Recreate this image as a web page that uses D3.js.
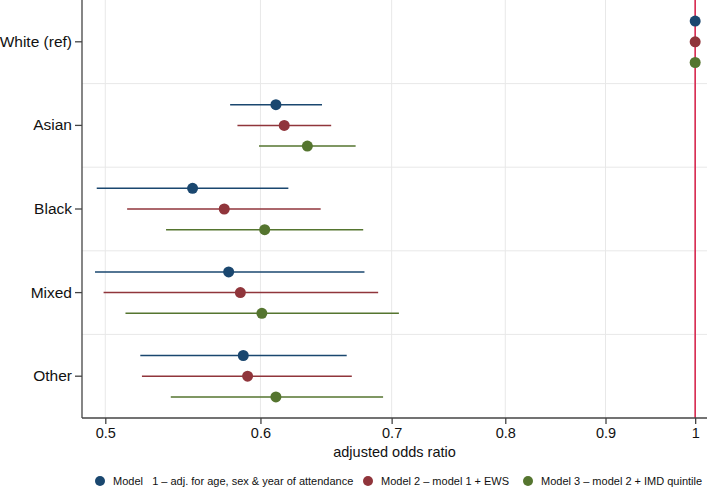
<!DOCTYPE html>
<html>
<head>
<meta charset="utf-8">
<script src="https://cdn.jsdelivr.net/npm/d3@7"></script>
<style>
  body { margin: 0; background: #fff; }
  svg text { font-family: "Liberation Sans", Arial, sans-serif; fill: #111; }
</style>
</head>
<body>
<div id="chart"></div>
<script>
// categories, top to bottom
var groups = ["White (ref)", "Asian", "Black", "Mixed", "Other"];
var models = ["Model   1 \u2013 adj. for age, sex & year of attendance",
              "Model 2 \u2013 model 1 + EWS",
              "Model 3 \u2013 model 2 + IMD quintile"];
var colors = ["#1a476f", "#90353b", "#55752f"];

// odds ratios and 95% CI per model, one value per group
var or1 = [1, 0.611, 0.554, 0.578, 0.588];
var lo1 = [1, 0.579, 0.495, 0.494, 0.521];
var hi1 = [1, 0.645, 0.620, 0.678, 0.664];

var or2 = [1, 0.617, 0.575, 0.586, 0.591];
var lo2 = [1, 0.584, 0.513, 0.499, 0.522];
var hi2 = [1, 0.652, 0.644, 0.689, 0.668];

var or3 = [1, 0.634, 0.603, 0.601, 0.611];
var lo3 = [1, 0.599, 0.537, 0.512, 0.540];
var hi3 = [1, 0.671, 0.677, 0.706, 0.693];

var xTicks = [0.5, 0.6, 0.7, 0.8, 0.9, 1];

var w = 708, h = 494;
var pLeft = 82, pRight = 707, pTop = 0, pBottom = 418;

var svg = d3.select("#chart").append("svg")
    .attr("width", w)
    .attr("height", h);

var x = d3.scaleLog().domain([0.4865, 1.014]).range([pLeft, pRight]);
var y = d3.scaleBand().domain(groups).range([pTop, pBottom]);
var off = d3.scalePoint().domain([0, 1, 2]).range([-20.7, 20.7]);

// grid lines
svg.selectAll("line.vgrid")
    .data(xTicks)
    .enter()
    .append("line")
    .attr("x1", function (d) { return x(d); })
    .attr("x2", function (d) { return x(d); })
    .attr("y1", pTop)
    .attr("y2", pBottom)
    .attr("stroke", "#e8e8e8")
    .attr("stroke-width", 1);

svg.selectAll("line.hgrid")
    .data(groups.slice(1))
    .enter()
    .append("line")
    .attr("x1", pLeft)
    .attr("x2", pRight)
    .attr("y1", function (d) { return y(d); })
    .attr("y2", function (d) { return y(d); })
    .attr("stroke", "#e8e8e8")
    .attr("stroke-width", 1);

// reference line at 1
svg.append("line")
    .attr("x1", x(1)).attr("x2", x(1))
    .attr("y1", pTop).attr("y2", pBottom)
    .attr("stroke", "#d8284f")
    .attr("stroke-width", 1.6);

// build rows
var rows = [];
[[or1, lo1, hi1], [or2, lo2, hi2], [or3, lo3, hi3]].forEach(function (s, m) {
    groups.forEach(function (g, i) {
        rows.push({ group: g, model: m, or: s[0][i], lo: s[1][i], hi: s[2][i] });
    });
});

function cy(d) { return y(d.group) + y.bandwidth() / 2 + off(d.model); }

svg.selectAll("line.ci")
    .data(rows.filter(function (d) { return d.lo !== d.hi; }))
    .enter()
    .append("line")
    .attr("x1", function (d) { return x(d.lo); })
    .attr("x2", function (d) { return x(d.hi); })
    .attr("y1", cy)
    .attr("y2", cy)
    .attr("stroke", function (d) { return colors[d.model]; })
    .attr("stroke-width", 1.5);

svg.selectAll("circle.pt")
    .data(rows)
    .enter()
    .append("circle")
    .attr("cx", function (d) { return x(d.or); })
    .attr("cy", cy)
    .attr("r", 5.5)
    .attr("fill", function (d) { return colors[d.model]; });

// axes
var xAxis = svg.append("g")
    .attr("transform", "translate(0," + pBottom + ")")
    .call(d3.axisBottom(x).tickValues(xTicks).tickFormat(d3.format("")).tickSize(6).tickPadding(4));
xAxis.select(".domain").attr("stroke", "#444").attr("stroke-width", 1.3)
    .attr("d", "M" + pLeft + ",0H" + pRight);
xAxis.selectAll(".tick line").attr("stroke", "#444").attr("stroke-width", 1.3);
xAxis.selectAll(".tick text").style("font-size", "14.5px").attr("fill", "#111");

var yAxis = svg.append("g")
    .attr("transform", "translate(" + pLeft + ",0)")
    .call(d3.axisLeft(y).tickSize(7).tickPadding(3));
yAxis.select(".domain").attr("stroke", "#444").attr("stroke-width", 1.3)
    .attr("d", "M0," + pTop + "V" + pBottom);
yAxis.selectAll(".tick line").attr("stroke", "#444").attr("stroke-width", 1.3);
yAxis.selectAll(".tick text").style("font-size", "15.5px").attr("fill", "#111");

svg.append("text")
    .attr("x", (pLeft + pRight) / 2)
    .attr("y", 457)
    .attr("text-anchor", "middle")
    .style("font-size", "14.5px")
    .text("adjusted odds ratio");

// legend
var legX = [100, 368, 528];
var leg = svg.selectAll("g.leg")
    .data(models)
    .enter()
    .append("g")
    .attr("transform", function (d, i) { return "translate(" + legX[i] + ",481)"; });
leg.append("circle")
    .attr("r", 5)
    .attr("fill", function (d, i) { return colors[i]; });
leg.append("text")
    .attr("x", 13)
    .attr("y", 4)
    .style("font-size", "11px")
    .style("white-space", "pre")
    .attr("xml:space", "preserve")
    .text(function (d) { return d; });
</script>
</body>
</html>
